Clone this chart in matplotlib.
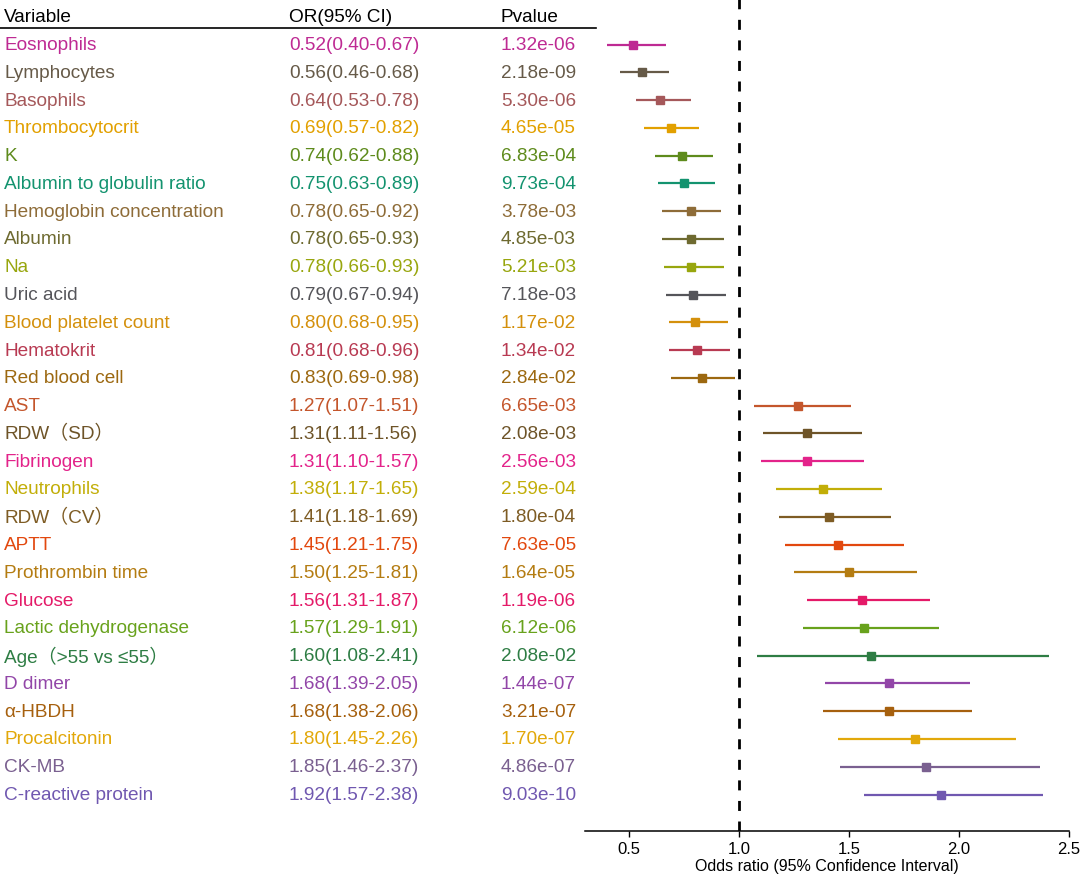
import matplotlib
matplotlib.use("Agg")
import matplotlib.pyplot as plt

plt.rcParams['font.family'] = ['Liberation Sans', 'Noto Sans CJK SC', 'DejaVu Sans']

variables = ["Eosnophils", "Lymphocytes", "Basophils", "Thrombocytocrit", "K",
             "Albumin to globulin ratio", "Hemoglobin concentration", "Albumin", "Na",
             "Uric acid", "Blood platelet count", "Hematokrit", "Red blood cell", "AST",
             "RDW（SD）", "Fibrinogen", "Neutrophils", "RDW（CV）", "APTT",
             "Prothrombin time", "Glucose", "Lactic dehydrogenase", "Age（>55 vs ≤55）",
             "D dimer", "α-HBDH", "Procalcitonin", "CK-MB", "C-reactive protein"]
odds = [0.52, 0.56, 0.64, 0.69, 0.74, 0.75, 0.78, 0.78, 0.78, 0.79, 0.80, 0.81, 0.83,
        1.27, 1.31, 1.31, 1.38, 1.41, 1.45, 1.50, 1.56, 1.57, 1.60, 1.68, 1.68, 1.80,
        1.85, 1.92]
lower = [0.40, 0.46, 0.53, 0.57, 0.62, 0.63, 0.65, 0.65, 0.66, 0.67, 0.68, 0.68, 0.69,
         1.07, 1.11, 1.10, 1.17, 1.18, 1.21, 1.25, 1.31, 1.29, 1.08, 1.39, 1.38, 1.45,
         1.46, 1.57]
upper = [0.67, 0.68, 0.78, 0.82, 0.88, 0.89, 0.92, 0.93, 0.93, 0.94, 0.95, 0.96, 0.98,
         1.51, 1.56, 1.57, 1.65, 1.69, 1.75, 1.81, 1.87, 1.91, 2.41, 2.05, 2.06, 2.26,
         2.37, 2.38]
pvalues = ["1.32e-06", "2.18e-09", "5.30e-06", "4.65e-05", "6.83e-04", "9.73e-04",
           "3.78e-03", "4.85e-03", "5.21e-03", "7.18e-03", "1.17e-02", "1.34e-02",
           "2.84e-02", "6.65e-03", "2.08e-03", "2.56e-03", "2.59e-04", "1.80e-04",
           "7.63e-05", "1.64e-05", "1.19e-06", "6.12e-06", "2.08e-02", "1.44e-07",
           "3.21e-07", "1.70e-07", "4.86e-07", "9.03e-10"]
colors = ["#BE2A93", "#665A48", "#A5585A", "#E2A000", "#5E8B1C", "#13936F",
          "#8E6C38", "#6E6A30", "#98A60E", "#55555A", "#D4900C", "#B83A52",
          "#9C6810", "#C4562C", "#6E5428", "#E3238A", "#C2AE08", "#7E5C24",
          "#E2480E", "#B47C12", "#E41A68", "#68A21C", "#2E7D44", "#9246A8",
          "#A6600E", "#E2A80A", "#7A6090", "#7058B0"]
header = ["Variable", "OR(95% CI)", "Pvalue"]
xticks = [0.5, 1.0, 1.5, 2.0, 2.5]

W, H = 1084, 878
fig = plt.figure(figsize=(W / 100, H / 100), dpi=100)

ax_left, ax_right = 585, 1069
ax_bottom = 832
row0, row_step = 45.5, 27.78
n = len(variables)
ymax = -row0 / row_step
ymin = (ax_bottom - row0) / row_step

ax = fig.add_axes([ax_left / W, 1 - ax_bottom / H, (ax_right - ax_left) / W, ax_bottom / H])
ax.set_xlim(0.3, 2.5)
ax.set_ylim(ymin, ymax)
rows = list(range(n))
for i in rows:
    ax.plot([lower[i], upper[i]], [i, i], color=colors[i], lw=1.6, solid_capstyle='butt')
    ax.plot(odds[i], i, marker='s', ms=6, color=colors[i], mec=colors[i])
ax.axvline(1.0, color='black', lw=2, dashes=(3.6, 3.8))
for s in ['left', 'right', 'top']:
    ax.spines[s].set_visible(False)
ax.spines['bottom'].set_linewidth(1.1)
ax.set_yticks([])
ax.set_xticks(xticks)
ax.set_xticklabels([f"{t:.1f}" for t in xticks], fontsize=12)
ax.tick_params(axis='x', length=4, width=1, pad=3)
ax.set_xlabel("Odds ratio (95% Confidence Interval)", fontsize=11.5, labelpad=2)

tx = fig.add_axes([0, 1 - ax_bottom / H, ax_left / W, ax_bottom / H])
tx.set_xlim(0, ax_left)
tx.set_ylim(ymin, ymax)
tx.axis('off')
col_x = [4, 289, 501]
fs = 13.7
for j, h in enumerate(header):
    tx.text(col_x[j], -1.0, h, fontsize=fs, va='center', ha='left', color='black')
tx.plot([0, 596], [-0.58, -0.58], color='black', lw=1.2, clip_on=False)
for i in rows:
    tx.text(col_x[0], i, variables[i], fontsize=fs, va='center', ha='left', color=colors[i])
    tx.text(col_x[1], i, f"{odds[i]:.2f}({lower[i]:.2f}-{upper[i]:.2f})", fontsize=fs,
            va='center', ha='left', color=colors[i])
    tx.text(col_x[2], i, pvalues[i], fontsize=fs, va='center', ha='left', color=colors[i])

fig.savefig("out.png", dpi=100)
